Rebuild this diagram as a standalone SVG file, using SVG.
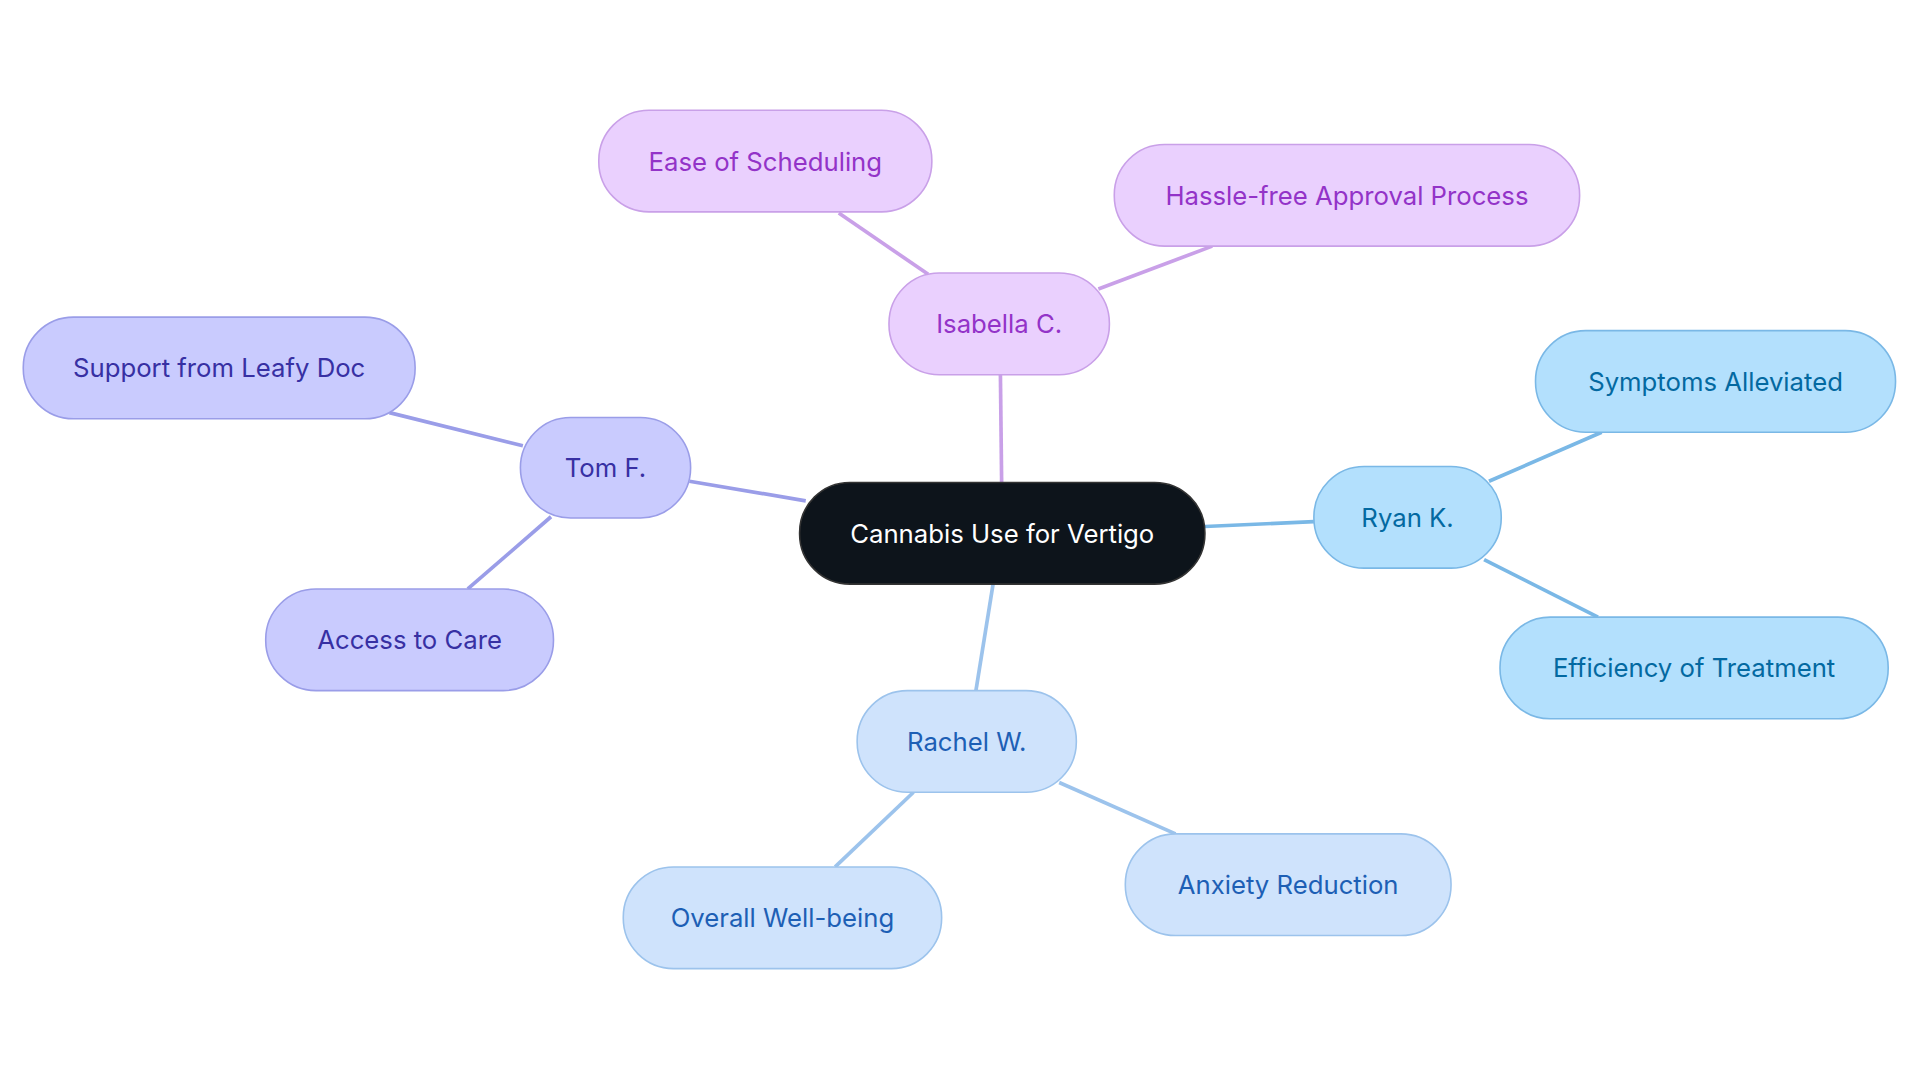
<svg xmlns="http://www.w3.org/2000/svg" width="1920" height="1083" viewBox="0 0 1920 1083">
<style>
text{font-family:Inter,"Open Sans",sans-serif;font-size:21px;text-anchor:middle;dominant-baseline:central}
rect{stroke-width:1.3}
.e line{stroke-width:3;fill:none}
.p rect{fill:#ead0fe;stroke:#c9a0e8}.p text{fill:#9333c8}
.t rect{fill:#c9cbfe;stroke:#9a9de8}.t text{fill:#3730a3}
.r rect{fill:#b3e0fd;stroke:#7ab8e6}.r text{fill:#0369a1}
.w rect{fill:#cfe3fc;stroke:#9cc3ec}.w text{fill:#1d5fb5}
</style>
<rect width="1920" height="1083" fill="#fff"/>
<g transform="scale(1.2245)">
<g id="connectors" class="e">
<line x1="818" y1="394" x2="817" y2="306" stroke="#c9a0e8"/>
<line x1="758" y1="224" x2="685" y2="174" stroke="#c9a0e8"/>
<line x1="897" y1="236" x2="990" y2="201" stroke="#c9a0e8"/>
<line x1="658" y1="409" x2="563" y2="393" stroke="#9a9de8"/>
<line x1="427" y1="364" x2="318" y2="337" stroke="#9a9de8"/>
<line x1="450" y1="422" x2="382" y2="481" stroke="#9a9de8"/>
<line x1="984" y1="430" x2="1073" y2="426" stroke="#7ab8e6"/>
<line x1="1216" y1="393" x2="1308" y2="353" stroke="#7ab8e6"/>
<line x1="1212" y1="457" x2="1305" y2="504" stroke="#7ab8e6"/>
<line x1="811" y1="477" x2="797" y2="564" stroke="#9cc3ec"/>
<line x1="746" y1="647" x2="682" y2="708" stroke="#9cc3ec"/>
<line x1="865" y1="639" x2="960" y2="681" stroke="#9cc3ec"/>
</g>
<g id="center"><rect x="653" y="394" width="331" height="83" rx="41" fill="#0d141b" stroke="#333"/><text x="818.5" y="435.5" fill="#fff">Cannabis Use for Vertigo</text></g>
<g id="isabella" class="p"><rect x="726" y="223" width="180" height="83" rx="41"/><text x="816" y="264.5">Isabella C.</text></g>
<g id="ease" class="p"><rect x="489" y="90" width="272" height="83" rx="41"/><text x="625" y="131.5">Ease of Scheduling</text></g>
<g id="hassle" class="p"><rect x="910" y="118" width="380" height="83" rx="41"/><text x="1100" y="159.5">Hassle-free Approval Process</text></g>
<g id="tom" class="t"><rect x="425" y="341" width="139" height="82" rx="41"/><text x="494.5" y="382">Tom F.</text></g>
<g id="support" class="t"><rect x="19" y="259" width="320" height="83" rx="41"/><text x="179" y="300.5">Support from Leafy Doc</text></g>
<g id="access" class="t"><rect x="217" y="481" width="235" height="83" rx="41"/><text x="334.5" y="522.5">Access to Care</text></g>
<g id="ryan" class="r"><rect x="1073" y="381" width="153" height="83" rx="41"/><text x="1149.5" y="422.5">Ryan K.</text></g>
<g id="symptoms" class="r"><rect x="1254" y="270" width="294" height="83" rx="41"/><text x="1401" y="311.5">Symptoms Alleviated</text></g>
<g id="efficiency" class="r"><rect x="1225" y="504" width="317" height="83" rx="41"/><text x="1383.5" y="545.5">Efficiency of Treatment</text></g>
<g id="rachel" class="w"><rect x="700" y="564" width="179" height="83" rx="41"/><text x="789.5" y="605.5">Rachel W.</text></g>
<g id="overall" class="w"><rect x="509" y="708" width="260" height="83" rx="41"/><text x="639" y="749.5">Overall Well-being</text></g>
<g id="anxiety" class="w"><rect x="919" y="681" width="266" height="83" rx="41"/><text x="1052" y="722.5">Anxiety Reduction</text></g>
</g>
</svg>
